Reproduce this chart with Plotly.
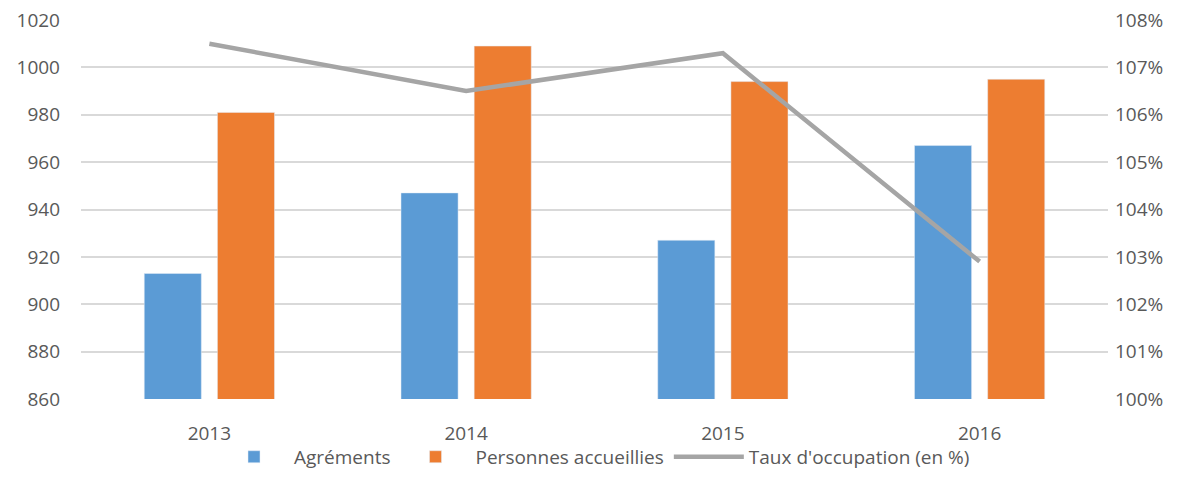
import plotly.graph_objects as go

annees = ["2013", "2014", "2015", "2016"]
agrements = [913, 947, 927, 967]
personnes = [981, 1009, 994, 995]
taux = [1.075, 1.065, 1.073, 1.029]

police = dict(family="Open Sans, Liberation Sans, sans-serif", size=19, color="#595959")

fig = go.Figure()
fig.add_trace(go.Bar(x=annees, y=agrements, name="Agréments", marker_color="#5b9bd5"))
fig.add_trace(go.Bar(x=annees, y=personnes, name="Personnes accueillies", marker_color="#ed7d31"))
fig.add_trace(go.Scatter(x=annees, y=taux, name="Taux d'occupation (en %)", yaxis="y2",
                         mode="lines", line=dict(color="#a5a5a5", width=4.5)))

# la page html a une marge de 8 px autour de la figure
fig.update_layout(
    width=1192, height=496,
    margin=dict(l=73, r=92, t=12, b=105),
    paper_bgcolor="white", plot_bgcolor="white",
    font=police,
    barmode="group", bargap=0.43, bargroupgap=0.22,
    xaxis=dict(showgrid=False, ticks="", tickfont=police, ticklabelstandoff=21, automargin=False),
    yaxis=dict(range=[860, 1020], dtick=20, gridcolor="#d9d9d9", gridwidth=1.5,
               zeroline=False, showline=False, tickfont=police, ticklabelstandoff=20,
               automargin=False, ticklabeloverflow="allow"),
    yaxis2=dict(range=[1.0, 1.08], dtick=0.01, tickformat=".0%", overlaying="y", side="right",
                showgrid=False, zeroline=False, tickfont=police, ticklabelstandoff=6,
                automargin=False, ticklabeloverflow="allow"),
    legend=dict(orientation="h", x=0.5, xanchor="center", yref="container", y=0.095,
                yanchor="middle", font=police, itemwidth=70, traceorder="normal",
                bgcolor="rgba(0,0,0,0)"),
    showlegend=True,
)

fig.write_html("out.html")
